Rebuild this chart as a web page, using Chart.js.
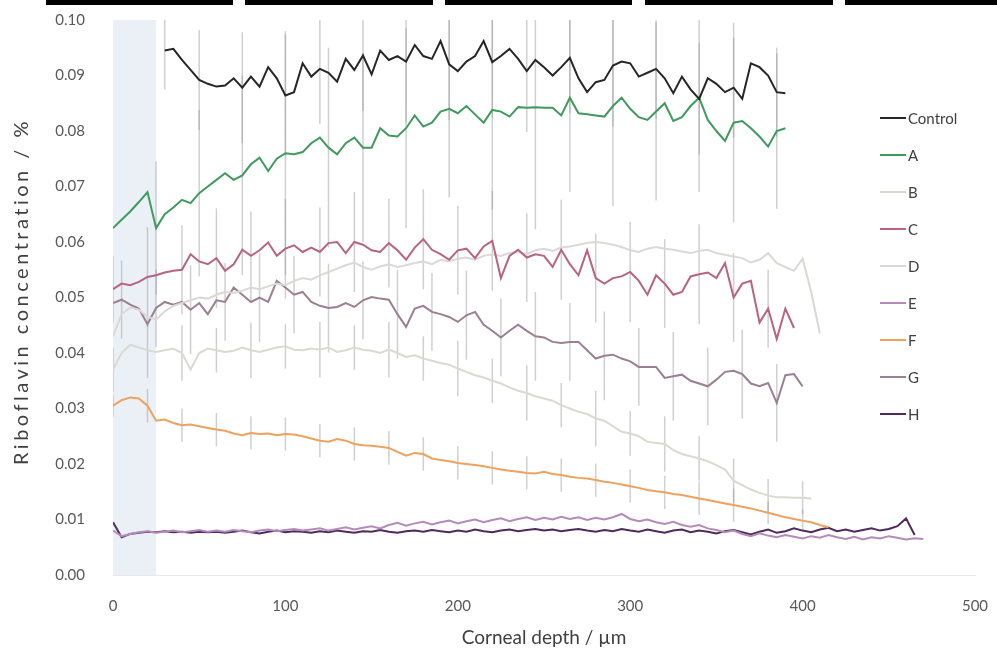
<!DOCTYPE html>
<html><head><meta charset="utf-8">
<script src="https://cdn.jsdelivr.net/npm/chart.js@4.4.1/dist/chart.umd.min.js"></script>
<style>html,body{margin:0;padding:0;background:#fff;}#wrap{width:997px;height:661px;position:relative;}</style>
</head><body><div id="wrap"><canvas id="c"></canvas></div>
<script>
// ---------- DATA ----------
const depth = [0,5,10,15,20,25,30,35,40,45,50,55,60,65,70,75,80,85,90,95,100,105,110,115,120,125,130,135,140,145,150,155,160,165,170,175,180,185,190,195,200,205,210,215,220,225,230,235,240,245,250,255,260,265,270,275,280,285,290,295,300,305,310,315,320,325,330,335,340,345,350,355,360,365,370,375,380,385,390,395,400,405,410,415,420,425,430,435,440,445,450,455,460,465,470];
const xTicks = [0,100,200,300,400,500];
const yTicks = [0,0.01,0.02,0.03,0.04,0.05,0.06,0.07,0.08,0.09,0.10];
const seriesNames = ['Control','A','B','C','D','E','F','G','H'];
const xTitle = 'Corneal depth / µm';
const yTitle = 'Riboflavin concentration / %';

const control = [null,null,null,null,null,null,
0.0945,0.0948,0.0928,0.0910,0.0892,0.0885,0.0880,0.0882,0.0895,0.0878,0.0898,0.0880,0.0915,0.0895,0.0864,0.0870,0.0922,0.0898,0.0912,0.0905,0.0889,0.0930,0.0910,0.0936,0.0902,0.0945,0.0928,0.0935,0.0925,0.0955,0.0935,0.0930,0.0962,0.0920,0.0908,0.0925,0.0935,0.0962,0.0924,0.0935,0.0948,0.0930,0.0908,0.0928,0.0915,0.0900,0.0915,0.0932,0.0895,0.0870,0.0888,0.0892,0.0918,0.0925,0.0922,0.0898,0.0905,0.0912,0.0895,0.0868,0.0898,0.0875,0.0858,0.0895,0.0885,0.0870,0.0878,0.0858,0.0922,0.0915,0.0900,0.0870,0.0868];
const seriesA = [0.0625,0.0640,0.0655,0.0672,0.0690,0.0625,0.0650,0.0662,0.0676,0.0670,0.0688,0.0700,0.0712,0.0724,0.0712,0.0720,0.0740,0.0752,0.0728,0.0750,0.0760,0.0758,0.0762,0.0778,0.0788,0.0770,0.0758,0.0778,0.0788,0.0770,0.0770,0.0805,0.0792,0.0790,0.0805,0.0828,0.0808,0.0815,0.0835,0.0840,0.0832,0.0845,0.0830,0.0815,0.0838,0.0835,0.0826,0.0843,0.0842,0.0843,0.0842,0.0842,0.0828,0.0860,0.0832,0.0830,0.0828,0.0826,0.0845,0.0860,0.0840,0.0825,0.0820,0.0835,0.0850,0.0818,0.0825,0.0845,0.0860,0.0820,0.0800,0.0782,0.0815,0.0818,0.0805,0.0790,0.0772,0.0800,0.0805];
const seriesB = [0.0370,0.0400,0.0415,0.0410,0.0405,0.0402,0.0405,0.0408,0.0400,0.0370,0.0400,0.0408,0.0405,0.0402,0.0404,0.0410,0.0405,0.0402,0.0406,0.0410,0.0412,0.0406,0.0405,0.0408,0.0406,0.0410,0.0402,0.0405,0.0410,0.0406,0.0404,0.0400,0.0406,0.0400,0.0393,0.0396,0.0390,0.0386,0.0382,0.0379,0.0372,0.0366,0.0360,0.0356,0.0350,0.0345,0.0338,0.0332,0.0328,0.0322,0.0318,0.0314,0.0306,0.0300,0.0294,0.0290,0.0282,0.0278,0.0268,0.0258,0.0255,0.0250,0.0240,0.0238,0.0236,0.0225,0.0218,0.0214,0.0210,0.0205,0.0198,0.0190,0.0170,0.0162,0.0154,0.0148,0.0143,0.0140,0.0140,0.0139,0.0139,0.0138];
const seriesC = [0.0515,0.0525,0.0522,0.0528,0.0537,0.0540,0.0545,0.0548,0.0550,0.0578,0.0565,0.0560,0.0571,0.0548,0.0560,0.0586,0.0575,0.0585,0.0599,0.0575,0.0588,0.0594,0.0582,0.0590,0.0582,0.0598,0.0600,0.0580,0.0600,0.0595,0.0585,0.0582,0.0598,0.0585,0.0568,0.0590,0.0605,0.0586,0.0578,0.0568,0.0585,0.0588,0.0571,0.0592,0.0602,0.0535,0.0575,0.0586,0.0572,0.0578,0.0575,0.0555,0.0586,0.0560,0.0540,0.0585,0.0535,0.0525,0.0535,0.0538,0.0546,0.0530,0.0505,0.0540,0.0525,0.0505,0.0510,0.0538,0.0542,0.0545,0.0535,0.0562,0.0500,0.0525,0.0530,0.0455,0.0480,0.0425,0.0480,0.0445];
const seriesD = [0.0430,0.0470,0.0482,0.0478,0.0465,0.0460,0.0475,0.0485,0.0490,0.0495,0.0500,0.0498,0.0505,0.0510,0.0508,0.0512,0.0518,0.0515,0.0520,0.0525,0.0522,0.0530,0.0535,0.0532,0.0540,0.0546,0.0552,0.0558,0.0563,0.0555,0.0550,0.0556,0.0560,0.0555,0.0558,0.0562,0.0565,0.0560,0.0568,0.0565,0.0570,0.0572,0.0568,0.0575,0.0578,0.0575,0.0580,0.0582,0.0578,0.0585,0.0588,0.0584,0.0590,0.0592,0.0595,0.0598,0.0600,0.0598,0.0595,0.0591,0.0585,0.0582,0.0588,0.0591,0.0588,0.0586,0.0583,0.0580,0.0584,0.0586,0.0580,0.0577,0.0574,0.0571,0.0563,0.0568,0.0580,0.0562,0.0555,0.0548,0.0570,0.0510,0.0435];
const seriesE = [0.0080,0.0070,0.0074,0.0077,0.0079,0.0076,0.0078,0.0080,0.0077,0.0079,0.0081,0.0078,0.0080,0.0078,0.0081,0.0079,0.0077,0.0080,0.0082,0.0079,0.0081,0.0083,0.0080,0.0082,0.0084,0.0080,0.0083,0.0086,0.0082,0.0085,0.0088,0.0084,0.0090,0.0094,0.0089,0.0093,0.0096,0.0091,0.0095,0.0098,0.0093,0.0097,0.0100,0.0095,0.0099,0.0102,0.0097,0.0101,0.0104,0.0099,0.0103,0.0100,0.0105,0.0101,0.0104,0.0099,0.0103,0.0100,0.0104,0.0110,0.0101,0.0097,0.0100,0.0095,0.0092,0.0096,0.0090,0.0087,0.0090,0.0084,0.0081,0.0077,0.0080,0.0074,0.0070,0.0075,0.0071,0.0068,0.0072,0.0069,0.0066,0.0070,0.0067,0.0072,0.0068,0.0065,0.0069,0.0064,0.0068,0.0066,0.0070,0.0067,0.0064,0.0066,0.0065];
const seriesF = [0.0305,0.0315,0.0320,0.0318,0.0305,0.0278,0.0280,0.0274,0.0270,0.0271,0.0268,0.0265,0.0262,0.0260,0.0255,0.0252,0.0256,0.0254,0.0255,0.0252,0.0254,0.0253,0.0250,0.0246,0.0242,0.0240,0.0245,0.0242,0.0236,0.0234,0.0233,0.0231,0.0229,0.0222,0.0215,0.0220,0.0218,0.0210,0.0207,0.0205,0.0202,0.0200,0.0198,0.0196,0.0193,0.0190,0.0188,0.0186,0.0184,0.0183,0.0186,0.0182,0.0180,0.0177,0.0175,0.0174,0.0171,0.0168,0.0166,0.0163,0.0160,0.0157,0.0153,0.0151,0.0149,0.0146,0.0144,0.0141,0.0138,0.0135,0.0132,0.0129,0.0126,0.0123,0.0120,0.0116,0.0112,0.0108,0.0104,0.0101,0.0098,0.0095,0.0090,0.0086];
const seriesG = [0.0490,0.0496,0.0487,0.0480,0.0452,0.0481,0.0492,0.0487,0.0492,0.0478,0.0490,0.0470,0.0495,0.0492,0.0518,0.0505,0.0492,0.0500,0.0492,0.0530,0.0518,0.0505,0.0510,0.0492,0.0485,0.0481,0.0483,0.0490,0.0483,0.0495,0.0501,0.0498,0.0496,0.0470,0.0447,0.0480,0.0485,0.0474,0.0470,0.0465,0.0456,0.0468,0.0474,0.0451,0.0440,0.0428,0.0440,0.0451,0.0440,0.0430,0.0428,0.0420,0.0418,0.0420,0.0420,0.0405,0.0390,0.0395,0.0397,0.0390,0.0385,0.0375,0.0375,0.0375,0.0355,0.0358,0.0361,0.0350,0.0345,0.0340,0.0352,0.0366,0.0368,0.0362,0.0345,0.0340,0.0346,0.0310,0.0360,0.0362,0.0340];
const seriesH = [0.0095,0.0068,0.0074,0.0076,0.0078,0.0077,0.0079,0.0077,0.0078,0.0076,0.0078,0.0077,0.0078,0.0076,0.0078,0.0080,0.0077,0.0075,0.0078,0.0080,0.0077,0.0079,0.0078,0.0076,0.0079,0.0077,0.0080,0.0078,0.0076,0.0079,0.0078,0.0081,0.0078,0.0076,0.0079,0.0080,0.0078,0.0081,0.0079,0.0077,0.0080,0.0078,0.0082,0.0079,0.0077,0.0080,0.0082,0.0079,0.0081,0.0083,0.0080,0.0082,0.0079,0.0081,0.0083,0.0080,0.0078,0.0081,0.0079,0.0083,0.0080,0.0078,0.0082,0.0079,0.0076,0.0080,0.0082,0.0077,0.0080,0.0078,0.0075,0.0079,0.0081,0.0077,0.0073,0.0078,0.0082,0.0076,0.0079,0.0084,0.0080,0.0077,0.0082,0.0085,0.0079,0.0082,0.0078,0.0081,0.0084,0.0080,0.0083,0.0088,0.0102,0.0072];

// error bars: depth positions and half-widths
const controlErrDepth = [30,50,75,100,120,145,170,195,220,240,265,290,315,340,360,385];
const controlErr = [0.007,0.009,0.010,0.011,0.010,0.010,0.011,0.010,0.010,0.011,0.010,0.011,0.009,0.010,0.009,0.008];
const aErrDepth = [25,50,75,100,125,145,170,195,220,245,265,290,315,340,360,385];
const aErr = [0.012,0.015,0.018,0.022,0.018,0.017,0.018,0.016,0.018,0.022,0.017,0.018,0.016,0.017,0.018,0.014];
const cErrDepth = [0,20,40,60,80,100,120,140,160,180,200,220,240,260,280,300,320,340,360,380];
const cErr = [0.006,0.009,0.008,0.009,0.008,0.009,0.008,0.009,0.008,0.009,0.008,0.009,0.008,0.009,0.008,0.009,0.008,0.009,0.008,0.007];
const gErr = [0.007,0.007,0.008,0.007,0.008,0.007,0.008,0.007,0.008,0.007,0.008,0.007,0.008,0.007,0.008,0.007,0.008,0.007,0.008,0.007];
const bErrDepth = [0,20,40,60,80,100,120,140,160,180,200,220,240,260,280,300,320,340,360,380,400];
const bErr = [0.004,0.005,0.005,0.004,0.005,0.004,0.005,0.004,0.005,0.004,0.005,0.004,0.005,0.004,0.005,0.004,0.005,0.004,0.004,0.003,0.003];
const fErr = [0.002,0.003,0.003,0.003,0.003,0.003,0.003,0.003,0.003,0.003,0.003,0.003,0.003,0.003,0.003,0.003,0.003,0.003,0.003,0.002,0.002];
const shadeEnd = 25;

// ---------- STYLE ----------
const colors = ['#262626','#3f9a5e','#d9dbd0','#b8637f','#dcd8d4','#b58bb9','#eea25e','#9b7f92','#4e2a5e'];
const allSeries = [control,seriesA,seriesB,seriesC,seriesD,seriesE,seriesF,seriesG,seriesH];
const FONT = 'Lato, "Open Sans", sans-serif';

function toPts(arr){
  const out=[];
  arr.forEach((v,i)=>{ if(v!=null) out.push({x:depth[i],y:v}); });
  return out;
}
function errPts(series, eDepth, eHalf){
  const out=[];
  eDepth.forEach((d,i)=>{
    const v = series[depth.indexOf(d)];
    if(v==null) return;
    out.push({x:d,y:v-eHalf[i]},{x:d,y:v+eHalf[i]},{x:d,y:null});
  });
  return out;
}
const errStyle = {borderColor:'rgba(150,150,150,0.45)',borderWidth:1.5,pointRadius:0,spanGaps:false,order:10,isErr:true};
const datasets = [
  Object.assign({data:errPts(control,controlErrDepth,controlErr)},errStyle),
  Object.assign({data:errPts(seriesA,aErrDepth,aErr)},errStyle),
  Object.assign({data:errPts(seriesC,cErrDepth,cErr)},errStyle),
  Object.assign({data:errPts(seriesG,cErrDepth.map(d=>d+5),gErr)},errStyle),
  Object.assign({data:errPts(seriesB,bErrDepth,bErr)},errStyle),
  Object.assign({data:errPts(seriesF,bErrDepth,fErr)},errStyle),
];
allSeries.forEach((s,i)=>{
  datasets.push({label:seriesNames[i],data:toPts(s),borderColor:colors[i],backgroundColor:colors[i],
    borderWidth:2,pointRadius:0,tension:0,order:1});
});

const decoPlugin = {
  id:'deco',
  beforeDatasetsDraw(chart){
    const {ctx,chartArea,scales:{x}} = chart;
    const x0 = x.getPixelForValue(0), x1 = x.getPixelForValue(shadeEnd);
    ctx.save();
    ctx.fillStyle = 'rgba(226,233,243,0.7)';
    ctx.fillRect(x0,chartArea.top,x1-x0,chartArea.bottom-chartArea.top);
    ctx.restore();
  },
  afterDraw(chart){
    const {ctx,chartArea} = chart;
    ctx.save();
    // top black strips
    ctx.fillStyle='#000';
    [[46,187],[245,188],[445,187],[645,188],[845,152]].forEach(r=>ctx.fillRect(r[0],0,r[1],5));
    // y-axis title (spaced letters)
    ctx.save();
    ctx.translate(22,(chartArea.top+chartArea.bottom)/2-6);
    ctx.rotate(-Math.PI/2);
    ctx.font = '20px '+FONT;
    ctx.letterSpacing = '3.5px';
    ctx.fillStyle = '#404040';
    ctx.textAlign='center'; ctx.textBaseline='middle';
    ctx.fillText(yTitle,0,0);
    ctx.restore();
    // legend
    let y = 118;
    ctx.font = '15px '+FONT;
    ctx.textBaseline='middle';
    chart.data.datasets.forEach(ds=>{
      if(ds.isErr) return;
      ctx.strokeStyle = ds.borderColor;
      ctx.lineWidth = 2;
      ctx.beginPath(); ctx.moveTo(880,y); ctx.lineTo(906,y); ctx.stroke();
      ctx.fillStyle='#404040';
      ctx.fillText(ds.label,908,y+1);
      y += 37;
    });
    ctx.restore();
  }
};

new Chart(document.getElementById('c'),{
  type:'line',
  data:{datasets},
  options:{
    responsive:true, maintainAspectRatio:false, animation:false,
    layout:{padding:{top:20,right:22,left:0,bottom:0}},
    plugins:{legend:{display:false},tooltip:{enabled:false}},
    scales:{
      x:{type:'linear',min:0,max:500,
        afterBuildTicks:s=>{s.ticks=xTicks.map(v=>({value:v}));},
        grid:{display:false,drawTicks:false},
        border:{display:true,color:'#e8e8e8'},
        ticks:{color:'#595959',font:{family:FONT,size:15},padding:22,maxRotation:0},
        title:{display:true,text:xTitle,color:'#404040',font:{family:FONT,size:19},padding:{top:0,bottom:12}},
        afterFit:s=>{s.height=86; s.paddingLeft=0; s.paddingRight=0;}
      },
      y:{min:0,max:0.1,
        afterBuildTicks:s=>{s.ticks=yTicks.map(v=>({value:v}));},
        grid:{display:false,drawTicks:false},
        border:{display:false},
        ticks:{color:'#595959',font:{family:FONT,size:15},padding:28,callback:v=>Number(v).toFixed(2)},
        title:{display:false},
        afterFit:s=>{s.width=113; s.paddingTop=0; s.paddingBottom=0;}
      }
    }
  },
  plugins:[decoPlugin]
});
</script></body></html>
